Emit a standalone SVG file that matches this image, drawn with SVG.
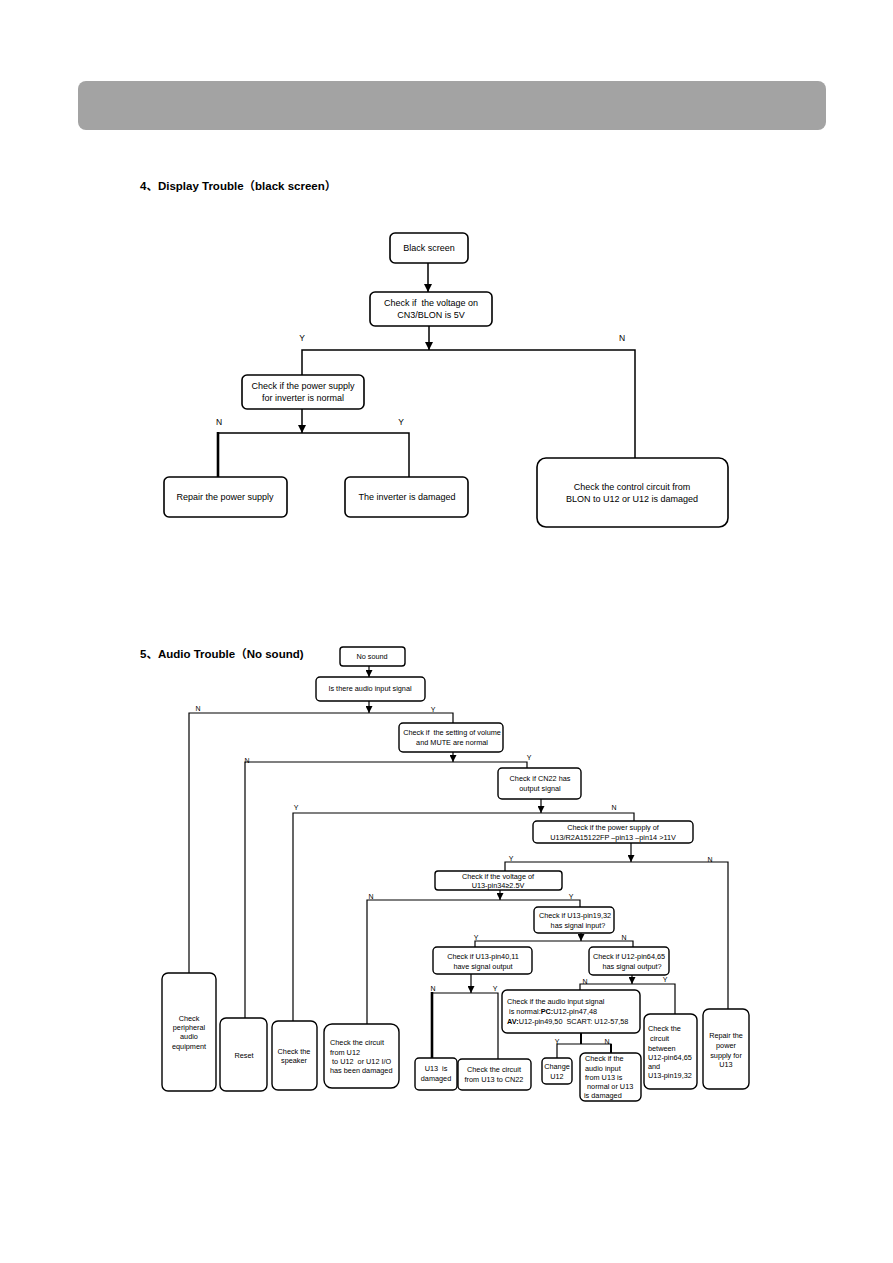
<svg xmlns="http://www.w3.org/2000/svg" width="893" height="1263" viewBox="0 0 893 1263">
<defs>
<marker id="ah" markerUnits="userSpaceOnUse" markerWidth="8" markerHeight="8" refX="8" refY="4" orient="auto"><path d="M0,0 L8,4 L0,8 z" fill="#000"/></marker>
<marker id="as" markerUnits="userSpaceOnUse" markerWidth="7" markerHeight="7" refX="7" refY="3.5" orient="auto"><path d="M0,0 L7,3.5 L0,7 z" fill="#000"/></marker>
</defs>
<style>
text{white-space:pre}
.bx{fill:#fff;stroke:#000;stroke-width:1.6}
.bs{fill:#fff;stroke:#000;stroke-width:1.4}
.ln{fill:none;stroke:#000;stroke-width:1.5}
.ls{fill:none;stroke:#000;stroke-width:1.2}
.t{font-family:"Liberation Sans",Arial,sans-serif;font-size:9px;fill:#000;text-anchor:middle}
.s{font-family:"Liberation Sans",Arial,sans-serif;font-size:7.3px;fill:#000;text-anchor:middle}
.sl{font-family:"Liberation Sans",Arial,sans-serif;font-size:7.3px;fill:#000}
.lb{font-family:"Liberation Sans",Arial,sans-serif;font-size:8.5px;fill:#000;text-anchor:middle}
.ls7{font-family:"Liberation Sans",Arial,sans-serif;font-size:7px;fill:#000;text-anchor:middle}
.h{font-family:"Liberation Sans","Noto Sans CJK SC",sans-serif;font-size:11.5px;font-weight:bold;fill:#000}
</style>
<rect x="78" y="81" width="748" height="49" rx="8" fill="#a3a3a3"/>
<text class="h" x="140" y="190">4、Display Trouble（black screen）</text>
<text class="h" x="140" y="658">5、Audio Trouble（No sound)</text>

<g id="connectors">
<line class="ln" x1="428" y1="263" x2="428" y2="292" marker-end="url(#ah)"/>
<line class="ln" x1="429" y1="325" x2="429" y2="350" marker-end="url(#ah)"/>
<polyline class="ln" points="302,375 302,350 635,350 635,458"/>
<line class="ln" x1="302" y1="409" x2="302" y2="433" marker-end="url(#ah)"/>
<polyline class="ln" points="218,433 409,433 409,477"/>
<line x1="218" y1="432" x2="218" y2="477" stroke="#000" stroke-width="2.6"/>

<line class="ls" x1="369" y1="666" x2="369" y2="677" marker-end="url(#as)"/>
<line class="ls" x1="369" y1="701" x2="369" y2="713" marker-end="url(#as)"/>
<polyline class="ls" points="189,973 189,713 453,713 453,723"/>
<line class="ls" x1="453" y1="747" x2="453" y2="762" marker-end="url(#as)"/>
<polyline class="ls" points="245,1018 245,762 527,762 527,768"/>
<line class="ls" x1="541" y1="799" x2="541" y2="813" marker-end="url(#as)"/>
<polyline class="ls" points="293,1021 293,813 634,813 634,821"/>
<line class="ls" x1="631" y1="843" x2="631" y2="862" marker-end="url(#as)"/>
<polyline class="ls" points="505,871 505,862 728,862 728,1009"/>
<line class="ls" x1="500" y1="889" x2="500" y2="900" marker-end="url(#as)"/>
<polyline class="ls" points="367,1024 367,900 580,900 580,907"/>
<line class="ls" x1="581" y1="933" x2="581" y2="941" marker-end="url(#as)"/>
<polyline class="ls" points="475,947 475,941 633,941 633,947"/>
<line class="ls" x1="471" y1="974" x2="471" y2="993" marker-end="url(#as)"/>
<polyline class="ls" points="432,993 498,993 498,1059"/>
<line x1="432" y1="992" x2="432" y2="1058" stroke="#000" stroke-width="2.6"/>
<line class="ls" x1="632" y1="975" x2="632" y2="984" marker-end="url(#as)"/>
<polyline class="ls" points="580,990 580,984 675,984 675,1014"/>
<line x1="581" y1="1033" x2="581" y2="1044" stroke="#000" stroke-width="2"/>
<polyline class="ls" points="557,1058 557,1044 611,1044 611,1053"/>
<line x1="611" y1="1044" x2="611" y2="1053" stroke="#000" stroke-width="2"/>
</g>

<g id="labels">
<text class="lb" x="302" y="341">Y</text>
<text class="lb" x="622" y="341">N</text>
<text class="lb" x="219" y="425">N</text>
<text class="lb" x="401" y="425">Y</text>
<text class="ls7" x="198" y="711">N</text>
<text class="ls7" x="433" y="712">Y</text>
<text class="ls7" x="247" y="763">N</text>
<text class="ls7" x="529" y="760">Y</text>
<text class="ls7" x="296" y="810">Y</text>
<text class="ls7" x="614" y="810">N</text>
<text class="ls7" x="511" y="861">Y</text>
<text class="ls7" x="710" y="862">N</text>
<text class="ls7" x="371" y="899">N</text>
<text class="ls7" x="571" y="899">Y</text>
<text class="ls7" x="476" y="940">Y</text>
<text class="ls7" x="624" y="940">N</text>
<text class="ls7" x="433" y="991">N</text>
<text class="ls7" x="495" y="991">Y</text>
<text class="ls7" x="585" y="984">N</text>
<text class="ls7" x="665" y="982">Y</text>
<text class="ls7" x="557" y="1044">Y</text>
<text class="ls7" x="607" y="1044">N</text>
</g>

<g id="black-screen"><rect class="bx" x="390" y="233" width="78" height="30" rx="5"/><text class="t" x="429" y="251">Black screen</text></g>
<g id="check-voltage"><rect class="bx" x="370" y="292" width="122" height="34" rx="5"/><text class="t" x="431" y="306">Check if  the voltage on</text><text class="t" x="431" y="318">CN3/BLON is 5V</text></g>
<g id="check-power"><rect class="bx" x="242" y="375" width="122" height="34" rx="5"/><text class="t" x="303" y="389">Check if the power supply</text><text class="t" x="303" y="401">for inverter is normal</text></g>
<g id="repair-power"><rect class="bx" x="164" y="477" width="123" height="40" rx="5"/><text class="t" x="225" y="500">Repair the power supply</text></g>
<g id="inverter-damaged"><rect class="bx" x="345" y="477" width="123" height="40" rx="5"/><text class="t" x="407" y="500">The inverter is damaged</text></g>
<g id="check-control"><rect class="bx" x="537" y="458" width="191" height="69" rx="9"/><text class="t" x="632" y="490">Check the control circuit from</text><text class="t" x="632" y="502">BLON to U12 or U12 is damaged</text></g>

<g id="no-sound"><rect class="bs" x="340" y="647" width="65" height="19" rx="3"/><text class="s" x="372" y="659">No sound</text></g>
<g id="audio-input"><rect class="bs" x="316" y="677" width="109" height="24" rx="4"/><text class="s" x="370" y="691">Is there audio input signal</text></g>
<g id="volume-mute"><rect class="bs" x="399" y="723" width="104" height="29" rx="4"/><text class="s" x="452" y="735">Check if  the setting of volume</text><text class="s" x="452" y="745">and MUTE are normal</text></g>
<g id="cn22"><rect class="bs" x="498" y="768" width="83" height="31" rx="4"/><text class="s" x="540" y="781">Check if CN22 has</text><text class="s" x="540" y="791">output signal</text></g>
<g id="power-u13"><rect class="bs" x="533" y="821" width="160" height="22" rx="4"/><text class="s" x="613" y="830">Check if the power supply of</text><text class="s" x="613" y="840">U13/R2A15122FP –pin13 –pin14 &gt;11V</text></g>
<g id="voltage-u13"><rect class="bs" x="435" y="871" width="127" height="19" rx="3"/><text class="s" x="498" y="879">Check if the voltage of</text><text class="s" x="498" y="888">U13-pin34≥2.5V</text></g>
<g id="u13-pin19"><rect class="bs" x="534" y="907" width="80" height="26" rx="4"/><text class="s" x="575" y="918">Check if U13-pin19,32</text><text class="s" x="578" y="928">has signal input?</text></g>
<g id="u13-pin40"><rect class="bs" x="433" y="947" width="99" height="27" rx="4"/><text class="s" x="483" y="959">Check if U13-pin40,11</text><text class="s" x="483" y="969">have signal output</text></g>
<g id="u12-pin64"><rect class="bs" x="589" y="947" width="80" height="28" rx="4"/><text class="s" x="629" y="959">Check if U12-pin64,65</text><text class="s" x="632" y="969">has signal output?</text></g>
<g id="audio-signal"><rect class="bs" x="502" y="990" width="138" height="43" rx="5"/><text class="sl" x="507" y="1004">Check if the audio input signal</text><text class="sl" x="507" y="1014"> is normal:<tspan font-weight="bold">PC:</tspan>U12-pin47,48</text><text class="sl" x="507" y="1024"><tspan font-weight="bold">AV:</tspan>U12-pin49,50  SCART: U12-57,58</text></g>
<g id="peripheral"><rect class="bs" x="162" y="973" width="54" height="118" rx="6"/><text class="s" x="189" y="1021">Check</text><text class="s" x="189" y="1030">peripheral</text><text class="s" x="189" y="1039">audio</text><text class="s" x="189" y="1049">equipment</text></g>
<g id="reset"><rect class="bs" x="220" y="1018" width="47" height="73" rx="6"/><text class="s" x="244" y="1058">Reset</text></g>
<g id="speaker"><rect class="bs" x="272" y="1021" width="45" height="69" rx="6"/><text class="s" x="294" y="1054">Check the</text><text class="s" x="294" y="1063">speaker</text></g>
<g id="circuit-u12"><rect class="bs" x="324" y="1024" width="75" height="64" rx="8"/><text class="sl" x="330" y="1045">Check the circuit</text><text class="sl" x="330" y="1055">from U12</text><text class="sl" x="330" y="1064"> to U12  or U12 I/O</text><text class="sl" x="330" y="1073">has been damaged</text></g>
<g id="u13-damaged"><rect class="bs" x="415" y="1058" width="42" height="32" rx="4"/><text class="s" x="436" y="1071">U13  is</text><text class="s" x="436" y="1081">damaged</text></g>
<g id="circuit-cn22"><rect class="bs" x="458" y="1059" width="73" height="31" rx="4"/><text class="s" x="494" y="1072">Check the circuit</text><text class="s" x="494" y="1082">from U13 to CN22</text></g>
<g id="change-u12"><rect class="bs" x="542" y="1058" width="30" height="26" rx="4"/><text class="s" x="557" y="1069">Change</text><text class="s" x="557" y="1079">U12</text></g>
<g id="audio-u13"><rect class="bs" x="580" y="1053" width="61" height="48" rx="5"/><text class="sl" x="585" y="1061">Check if the</text><text class="sl" x="585" y="1071">audio input</text><text class="sl" x="585" y="1080">from U13 is</text><text class="sl" x="585" y="1089"> normal or U13</text><text class="sl" x="584" y="1098">is damaged</text></g>
<g id="circuit-between"><rect class="bs" x="644" y="1014" width="53" height="75" rx="6"/><text class="sl" x="648" y="1031">Check the</text><text class="sl" x="648" y="1041"> circuit</text><text class="sl" x="648" y="1051">between</text><text class="sl" x="648" y="1060">U12-pin64,65</text><text class="sl" x="648" y="1069">and</text><text class="sl" x="648" y="1078">U13-pin19,32</text></g>
<g id="repair-u13"><rect class="bs" x="703" y="1009" width="46" height="80" rx="6"/><text class="s" x="726" y="1038">Repair the</text><text class="s" x="726" y="1048">power</text><text class="s" x="726" y="1058">supply for</text><text class="s" x="726" y="1067">U13</text></g>
</svg>
